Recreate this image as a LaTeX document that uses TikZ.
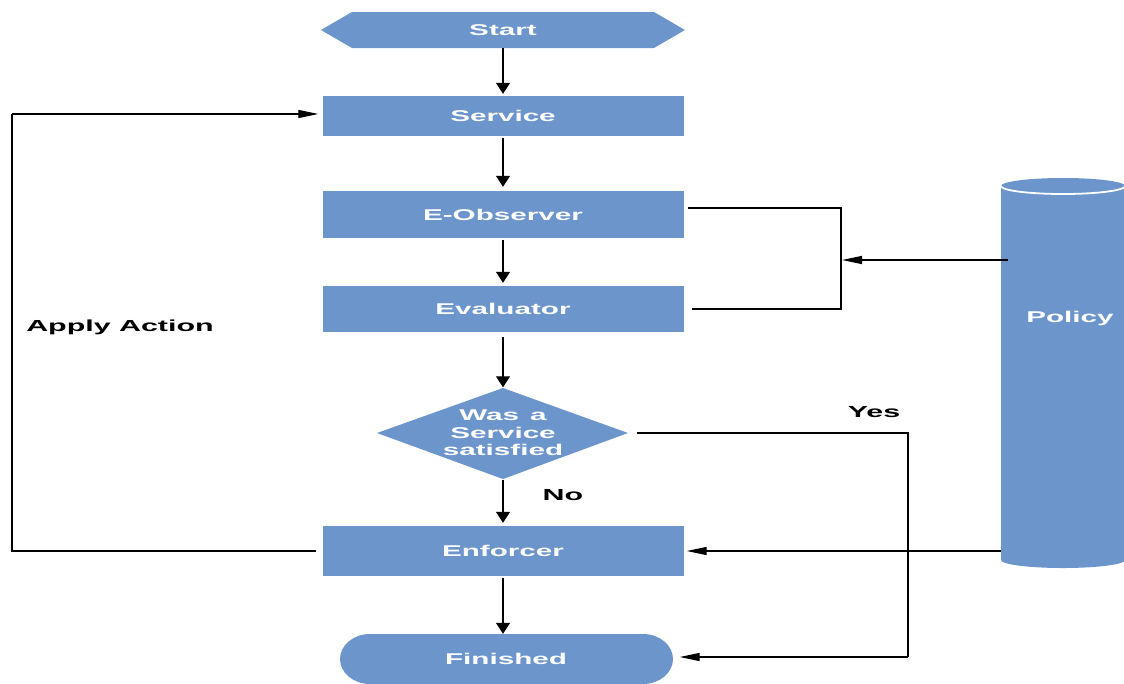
\documentclass[tikz,border=0pt]{standalone}
\usepackage{fontspec}
\setmainfont{Liberation Sans}
\newfontfamily\widesans{Liberation Sans}[FakeStretch=1.9]
\usetikzlibrary{arrows.meta}
\definecolor{boxblue}{RGB}{108,149,204}
\tikzset{
  box/.style={fill=boxblue, draw=none, minimum width=361pt, inner sep=0pt,
    text=white, font=\widesans\bfseries\fontsize{15.6}{17.5}\selectfont},
  ghost/.style={draw=none, fill=none, inner sep=0pt,
    text=white, font=\widesans\bfseries\fontsize{15.6}{17.5}\selectfont},
  lbl/.style={inner sep=0pt, text=black, font=\widesans\bfseries\fontsize{16}{18}\selectfont},
  conn/.style={line width=1.3pt, draw=black},
  varrow/.style={conn, -{Triangle[length=11pt,width=14pt]}},
  harrow/.style={conn, -{Triangle[length=20pt,width=8pt]}},
}
\begin{document}
\begin{tikzpicture}[x=1pt,y=-1pt]
\useasboundingbox (0,0) rectangle (1124,683);

% Start terminal (hexagon)
\fill[boxblue] (321,30) -- (352,12) -- (654,12) -- (685,30) -- (654,48) -- (352,48) -- cycle;
\node[ghost, minimum width=364pt, minimum height=36pt] (start) at (503,30) {Start};

% Process boxes
\node[box, minimum height=40pt] (service) at (503,116) {Service};
\node[box, minimum height=47pt] (eobs) at (503,214.5) {E-Observer};
\node[box, minimum height=46pt] (eval) at (503,309) {Evaluator};
\node[box, minimum height=50pt] (enf) at (503,551) {Enforcer};

% Decision
\fill[boxblue] (377,433) -- (503,388) -- (628,433) -- (503,479) -- cycle;
\node[ghost, minimum width=251pt, minimum height=91pt, align=center] (dec) at (503,433)
  {Was\hspace{11pt}a\\Service\\satisfied};

% Finished terminal
\fill[boxblue] (370,634) -- (643,634)
  arc[start angle=-90, end angle=90, x radius=30, y radius=25]
  -- (370,684)
  arc[start angle=90, end angle=270, x radius=30, y radius=25] -- cycle;
\node[ghost, minimum width=333pt, minimum height=50pt] (fin) at (506,659) {Finished};

% Policy store (cylinder)
\fill[boxblue] (1001,186) rectangle (1125,560);
\fill[boxblue] (1063,186) ellipse[x radius=62, y radius=8];
\fill[boxblue] (1063,560) ellipse[x radius=62, y radius=8];
\draw[white, line width=1.8pt] (1001,186) arc[start angle=180, end angle=0, x radius=62, y radius=8];
\node[ghost] (policy) at (1070,318) {Policy};

% Main flow
\draw[varrow, shorten >=2pt] (start.south) -- (service.north);
\draw[varrow, shorten <=2pt, shorten >=4pt] (service.south) -- (eobs.north);
\draw[varrow, shorten <=2pt, shorten >=3pt] (eobs.south) -- (eval.north);
\draw[varrow, shorten <=5pt] (eval.south) -- (dec.north);
\draw[varrow, shorten <=1pt, shorten >=3pt] (dec.south) -- (enf.north);
\draw[varrow, shorten <=2pt] (enf.south) -- (enf.south |- fin.north);

% Policy feeding the observer and evaluator
\coordinate (brTop) at (688,208);
\coordinate (brTopR) at (841,208);
\coordinate (brBot) at (692,309);
\coordinate (brBotR) at (841,309);
\coordinate (brMid) at (842,260);
\coordinate (polOut) at (1008,260);
\draw[conn] (brTop) -- (brTopR) -- (brBotR) -- (brBot);
\draw[harrow] (polOut) -- (brMid);

% Policy feeding the enforcer
\coordinate (polLow) at (1001,551);
\draw[harrow, shorten >=3pt] (polLow) -- (enf.east);

% Yes branch
\coordinate (yesA) at (908,433);
\coordinate (yesB) at (908,657);
\draw[conn, shorten <=8pt] (dec.east) -- (yesA) -- (yesB);
\draw[harrow, shorten >=7pt] (yesB) -- (fin.east |- yesB);

% Apply Action loop
\coordinate (loopA) at (12,551);
\coordinate (loopB) at (12,114);
\draw[conn, shorten <=6pt] (enf.west) -- (loopA) -- (loopB);
\draw[harrow, shorten >=4pt] (loopB) -- (service.west |- loopB);

% Labels
\node[lbl] (no) at (563,495) {No};
\node[lbl] (yes) at (874,412) {Yes};
\node[lbl] (apply) at (120,327) {Apply Action};
\end{tikzpicture}
\end{document}
